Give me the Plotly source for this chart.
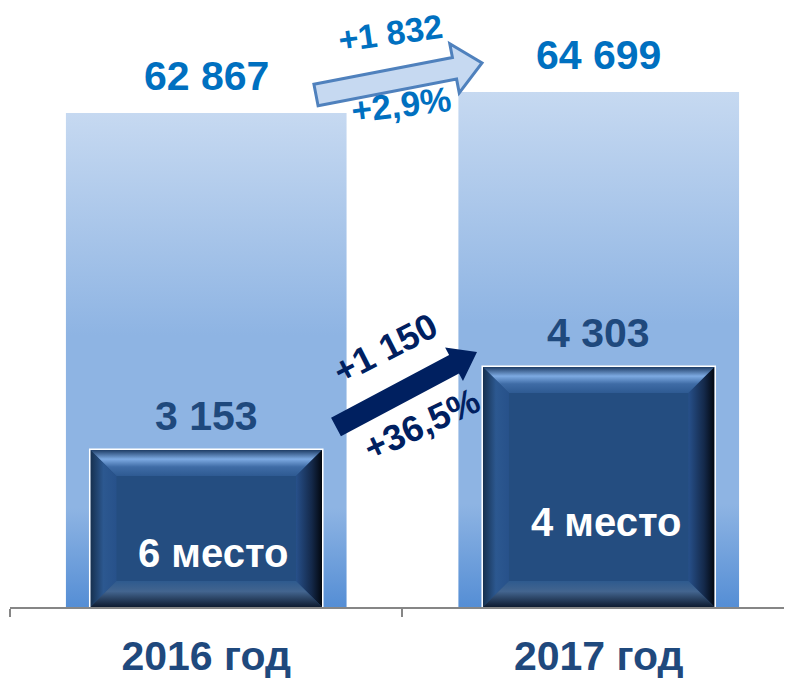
import base64
import math
import plotly.graph_objects as go

# ---------------- data ----------------
years = ["2016 год", "2017 год"]
total_values = [62867, 64699]
region_values = [3153, 4303]
ranks = [6, 4]

# ---------------- layout constants ----------------
# the page body adds an 8 px margin, so the figure is drawn 8 px smaller
OFF = 8
W, H = 784, 672
ML, MR, MT, MB = 2, 0, 0, 73
PW, PH = W - ML - MR, H - MT - MB
X_RANGE = [-0.5, 1.4924]
Y_RANGE = [19771, 72026]
Y2_RANGE = [977, 9279]
BIG_W = 0.716
SMALL_W = 0.59
FONT = "Liberation Sans, Arial, sans-serif"

px_per_x = PW / (X_RANGE[1] - X_RANGE[0])
px_per_y = PH / (Y_RANGE[1] - Y_RANGE[0])
px_per_y2 = PH / (Y2_RANGE[1] - Y2_RANGE[0])


def fmt(v):
    return f"{v:,}".replace(",", " ")


def data_uri(svg):
    return "data:image/svg+xml;base64," + base64.b64encode(svg.encode()).decode()


def gradient_svg(w, h):
    return (
        f"<svg xmlns='http://www.w3.org/2000/svg' width='{w:.0f}' height='{h:.0f}' "
        f"viewBox='0 0 {w:.1f} {h:.1f}' preserveAspectRatio='none'>"
        "<defs><linearGradient id='g' x1='0' y1='0' x2='0' y2='1'>"
        "<stop offset='0' stop-color='#C6D9F1'/>"
        "<stop offset='0.45' stop-color='#8EB4E3'/>"
        "<stop offset='0.80' stop-color='#8EB4E3'/>"
        "<stop offset='1' stop-color='#558ED5'/>"
        "</linearGradient></defs>"
        f"<rect x='0' y='0' width='{w:.1f}' height='{h:.1f}' fill='url(#g)'/></svg>"
    )


def bevel_svg(w, h, d=26):
    return (
        f"<svg xmlns='http://www.w3.org/2000/svg' width='{w:.0f}' height='{h:.0f}' "
        f"viewBox='0 0 {w:.1f} {h:.1f}' preserveAspectRatio='none'>"
        "<defs>"
        "<linearGradient id='t' x1='0' y1='0' x2='0' y2='1'>"
        "<stop offset='0' stop-color='#1E3D66'/><stop offset='0.35' stop-color='#7DAAE2'/>"
        "<stop offset='0.65' stop-color='#3F6CA6'/><stop offset='1' stop-color='#2E5A92'/></linearGradient>"
        "<linearGradient id='l' x1='0' y1='0' x2='1' y2='0'>"
        "<stop offset='0' stop-color='#16304F'/><stop offset='0.5' stop-color='#2C5890'/>"
        "<stop offset='1' stop-color='#27518A'/></linearGradient>"
        "<linearGradient id='r' x1='0' y1='0' x2='1' y2='0'>"
        "<stop offset='0' stop-color='#27508A'/><stop offset='0.6' stop-color='#14294A'/>"
        "<stop offset='1' stop-color='#02070F'/></linearGradient>"
        "<linearGradient id='b' x1='0' y1='0' x2='0' y2='1'>"
        "<stop offset='0' stop-color='#2E5A8E'/><stop offset='0.4' stop-color='#43658F'/>"
        "<stop offset='1' stop-color='#0E1B30'/></linearGradient>"
        "</defs>"
        f"<rect x='0' y='0' width='{w:.1f}' height='{h:.1f}' fill='#244D80'/>"
        f"<polygon points='0,0 {w:.1f},0 {w-d:.1f},{d} {d},{d}' fill='url(#t)'/>"
        f"<polygon points='0,0 {d},{d} {d},{h-d:.1f} 0,{h:.1f}' fill='url(#l)'/>"
        f"<polygon points='{w:.1f},0 {w:.1f},{h:.1f} {w-d:.1f},{h-d:.1f} {w-d:.1f},{d}' fill='url(#r)'/>"
        f"<polygon points='0,{h:.1f} {d},{h-d:.1f} {w-d:.1f},{h-d:.1f} {w:.1f},{h:.1f}' fill='url(#b)'/>"
        "</svg>"
    )


def to_paper(px, py):
    # px, py: positions in the 792x680 page
    fx, fy = px - OFF, py - OFF
    return (fx - ML) / PW, (MT + PH - fy) / PH


def arrow_path(tail, tip, shaft_hw, head_hw, head_len):
    (x0, y0), (x1, y1) = tail, tip
    L = math.hypot(x1 - x0, y1 - y0)
    ux, uy = (x1 - x0) / L, (y1 - y0) / L
    nx, ny = -uy, ux
    bx, by = x1 - ux * head_len, y1 - uy * head_len
    pts = [
        (x0 + nx * shaft_hw, y0 + ny * shaft_hw),
        (bx + nx * shaft_hw, by + ny * shaft_hw),
        (bx + nx * head_hw, by + ny * head_hw),
        (x1, y1),
        (bx - nx * head_hw, by - ny * head_hw),
        (bx - nx * shaft_hw, by - ny * shaft_hw),
        (x0 - nx * shaft_hw, y0 - ny * shaft_hw),
    ]
    pp = [to_paper(*p) for p in pts]
    return "M " + " L ".join(f"{a:.5f},{b:.5f}" for a, b in pp) + " Z"


fig = go.Figure()

# big bars (their colour comes from the gradient image drawn underneath)
fig.add_trace(go.Bar(
    x=years, y=total_values, width=BIG_W, yaxis="y",
    marker=dict(color="rgba(141,179,226,0)", line=dict(width=0)),
    hoverinfo="y", showlegend=False,
))
# small bars
fig.add_trace(go.Bar(
    x=years, y=region_values, width=SMALL_W, yaxis="y2",
    marker=dict(color="#244D80", line=dict(color="white", width=3)),
    hoverinfo="y", showlegend=False,
))

images = []
for i, v in enumerate(total_values):
    w_px = BIG_W * px_per_x
    h_px = (v - Y_RANGE[0]) * px_per_y
    images.append(dict(
        source=data_uri(gradient_svg(w_px, h_px)), xref="x", yref="y",
        x=i - BIG_W / 2, y=v, sizex=BIG_W, sizey=v - Y_RANGE[0],
        xanchor="left", yanchor="top", sizing="stretch", layer="below",
    ))
for i, v in enumerate(region_values):
    w_px = SMALL_W * px_per_x
    h_px = (v - Y2_RANGE[0]) * px_per_y2
    images.append(dict(
        source=data_uri(bevel_svg(w_px, h_px)), xref="x", yref="y2",
        x=i - SMALL_W / 2, y=v, sizex=SMALL_W, sizey=v - Y2_RANGE[0],
        xanchor="left", yanchor="top", sizing="stretch", layer="above",
    ))

annotations = []
for i, v in enumerate(total_values):
    annotations.append(dict(
        x=i, y=v, xref="x", yref="y", text=fmt(v), showarrow=False,
        yanchor="middle", yshift=37,
        font=dict(family=FONT, size=41, color="#0070C0", weight="bold"),
    ))
for i, v in enumerate(region_values):
    annotations.append(dict(
        x=i, y=v, xref="x", yref="y2", text=fmt(v), showarrow=False,
        yanchor="middle", yshift=34,
        font=dict(family=FONT, size=41, color="#1F497D", weight="bold"),
    ))
rank_pos = [(213, 553), (606, 522)]
for r, (px, py) in zip(ranks, rank_pos):
    xp, yp = to_paper(px, py)
    annotations.append(dict(
        x=xp, y=yp, xref="paper", yref="paper", text=f"{r} место", showarrow=False,
        xanchor="center", yanchor="middle",
        font=dict(family=FONT, size=40, color="white", weight="bold"),
    ))

d_total = total_values[1] - total_values[0]
p_total = d_total / total_values[0] * 100
d_reg = region_values[1] - region_values[0]
p_reg = d_reg / region_values[0] * 100
change_labels = [
    (f"+{fmt(d_total)}", (390, 33), -8, 34, "#0070C0"),
    (f"+{p_total:.1f}%".replace(".", ","), (401, 104), -7, 35, "#0070C0"),
    (f"+{fmt(d_reg)}", (385, 349), -27, 36, "#002060"),
    (f"+{p_reg:.1f}%".replace(".", ","), (421, 424), -25, 36, "#002060"),
]
for txt, (px, py), ang, sz, col in change_labels:
    xp, yp = to_paper(px, py)
    annotations.append(dict(
        x=xp, y=yp, xref="paper", yref="paper", text=txt, showarrow=False,
        xanchor="center", yanchor="middle", textangle=ang,
        font=dict(family=FONT, size=sz, color=col, weight="bold"),
    ))

shapes = [
    dict(type="path", xref="paper", yref="paper",
         path=arrow_path((316, 95), (482, 63), 11, 25, 28),
         fillcolor="#C6D9F1", line=dict(color="#4F81BD", width=3), layer="above"),
    dict(type="path", xref="paper", yref="paper",
         path=arrow_path((336, 427), (477, 352), 10.5, 19, 26),
         fillcolor="#002060", line=dict(color="#002060", width=0), layer="above"),
]

fig.update_layout(
    width=W, height=H, template="none",
    margin=dict(l=ML, r=MR, t=MT, b=MB, pad=0),
    paper_bgcolor="white", plot_bgcolor="rgba(0,0,0,0)",
    barmode="overlay", showlegend=False,
    xaxis=dict(
        type="category", range=X_RANGE,
        showgrid=False, zeroline=False, showline=True, linecolor="#868686", linewidth=1.5,
        ticks="outside", tickson="boundaries", ticklen=8, tickcolor="#868686", tickwidth=1.5,
        tickfont=dict(family=FONT, size=41, color="#1F497D", weight="bold"),
        ticklabelstandoff=12, automargin=False,
    ),
    yaxis=dict(range=Y_RANGE, visible=False, showgrid=False, zeroline=False, fixedrange=True),
    yaxis2=dict(range=Y2_RANGE, overlaying="y", visible=False, showgrid=False,
                zeroline=False, fixedrange=True),
    images=images, annotations=annotations, shapes=shapes,
)

fig.write_html("out.html")
